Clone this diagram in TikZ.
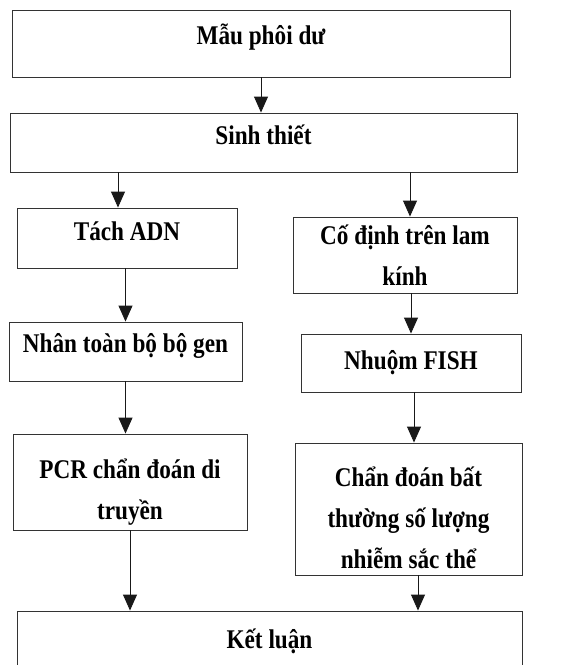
\documentclass[tikz,border=0pt]{standalone}
\usepackage{fontspec}
\setmainfont[FakeStretch=0.86]{Liberation Serif}
\usetikzlibrary{arrows.meta}

\tikzset{
    box/.style={draw=black!80, line width=0.9pt, inner sep=0pt, align=center,
        font=\bfseries\fontsize{27}{41}\selectfont},
    raise/.style={text depth=#1},
    arr/.style={-{Triangle[length=16pt,width=14pt]}, line width=0.9pt, draw=black!90}
}

\begin{document}
\begin{tikzpicture}[x=1pt, y=-1pt]
    \useasboundingbox (0,0) rectangle (585,665);
    \clip (0,0) rectangle (585,665);

    \node[box, raise=18, minimum width=498, minimum height=67] (mau) at (261,43.5) {Mẫu phôi dư};
    \node[box, raise=16, minimum width=507, minimum height=59] (sinh) at (263.5,142.5) {Sinh thiết};

    % nhanh trai
    \node[box, raise=13, minimum width=220, minimum height=60] (tach) at (127,238) {Tách ADN};
    \node[box, raise=18, minimum width=233, minimum height=59] (nhan) at (125.5,351.5) {Nhân toàn bộ bộ gen};
    \node[box, text height=81, minimum width=234, minimum height=96] (pcr) at (130,482) {PCR chẩn đoán di\\truyền};

    % nhanh phai
    \node[box, minimum width=224, minimum height=76] (codinh) at (405,255) {Cố định trên lam\\kính};
    \node[box, minimum width=220, minimum height=58] (nhuom) at (411,363) {Nhuộm FISH};
    \node[box, text height=120, minimum width=227, minimum height=132] (chan) at (408.5,509) {Chẩn đoán bất\\thường số lượng\\nhiễm sắc thể};

    \node[box, minimum width=505, minimum height=60] (ket) at (269.5,641) {Kết luận};

    \draw[arr] (mau.south) -- (mau.south |- sinh.north);
    \draw[arr] ([xshift=-9]tach.north |- sinh.south) -- ([xshift=-9]tach.north);
    \draw[arr] ([xshift=5]codinh.north |- sinh.south) -- ([xshift=5]codinh.north);
    \draw[arr] (nhan.north |- tach.south) -- (nhan.north);
    \draw[arr] (nhan.south) -- (nhan.south |- pcr.north);
    \draw[arr] (nhuom.north |- codinh.south) -- (nhuom.north);
    \draw[arr] ([xshift=3]nhuom.south) -- ([xshift=3]nhuom.south |- chan.north);
    \draw[arr] (pcr.south) -- (pcr.south |- ket.north);
    \draw[arr] ([xshift=9.5]chan.south) -- ([xshift=9.5]chan.south |- ket.north);

\end{tikzpicture}
\end{document}
